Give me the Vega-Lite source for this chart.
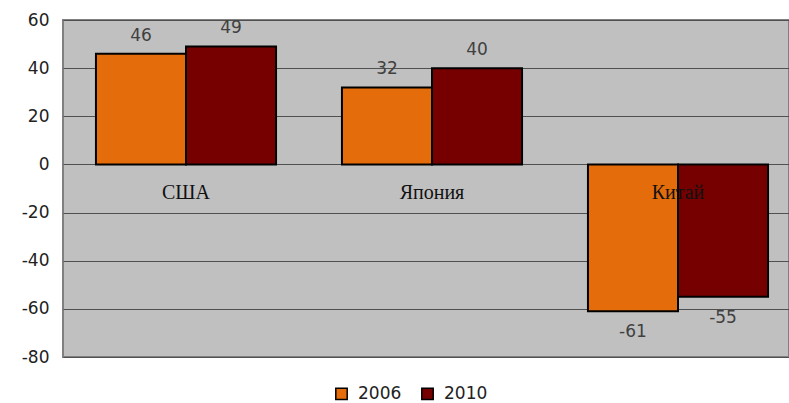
{
  "$schema": "https://vega.github.io/schema/vega-lite/v6.json",
  "width": 726,
  "height": 337,
  "autosize": "none",
  "padding": {"left": 63, "top": 20, "right": 0, "bottom": 46},
  "background": "white",
  "config": {
    "view": {"fill": "#C0C0C0", "stroke": "#808080", "strokeWidth": 2},
    "font": "DejaVu Sans"
  },
  "data": {
    "values": [
      {"country": "США", "year": "2006", "value": 46},
      {"country": "США", "year": "2010", "value": 49},
      {"country": "Япония", "year": "2006", "value": 32},
      {"country": "Япония", "year": "2010", "value": 40},
      {"country": "Китай", "year": "2006", "value": -61},
      {"country": "Китай", "year": "2010", "value": -55}
    ]
  },
  "encoding": {
    "x": {
      "field": "country",
      "type": "nominal",
      "sort": ["США", "Япония", "Китай"],
      "scale": {"range": [0, 738], "paddingInner": 0.268, "paddingOuter": 0.134},
      "axis": null
    }
  },
  "layer": [
    {
      "mark": {"type": "bar", "stroke": "black", "strokeWidth": 2},
      "encoding": {
        "xOffset": {"field": "year", "type": "nominal", "scale": {"paddingInner": 0, "paddingOuter": 0}},
        "y": {
          "field": "value",
          "type": "quantitative",
          "scale": {"domain": [-80, 60], "nice": false, "zero": false},
          "axis": {
            "values": [-80, -60, -40, -20, 0, 20, 40, 60],
            "labelExpr": "replace(datum.label, '−', '-')",
            "title": null,
            "domain": false,
            "ticks": false,
            "labelPadding": 14,
            "labelFontSize": 17,
            "labelColor": "#222222",
            "labelFont": "DejaVu Sans",
            "gridColor": "#505050",
            "gridWidth": 1,
            "gridOpacity": 1
          }
        },
        "color": {
          "field": "year",
          "type": "nominal",
          "scale": {"domain": ["2006", "2010"], "range": ["#E46C0A", "#760000"]},
          "legend": {
            "title": null,
            "orient": "none",
            "legendX": 270,
            "legendY": 365,
            "direction": "horizontal",
            "symbolType": "square",
            "symbolSize": 130,
            "symbolStrokeColor": "black",
            "symbolStrokeWidth": 1.5,
            "symbolOpacity": 1,
            "labelFontSize": 17,
            "labelFont": "DejaVu Sans",
            "labelColor": "#222222",
            "labelOffset": 8,
            "columnPadding": 16
          }
        }
      }
    },
    {
      "transform": [{"filter": "datum.value >= 0"}],
      "mark": {"type": "text", "baseline": "middle", "dy": -18, "fontSize": 17, "color": "#404040"},
      "encoding": {
        "xOffset": {"field": "year", "type": "nominal"},
        "y": {"field": "value", "type": "quantitative"},
        "text": {"field": "value", "type": "nominal"}
      }
    },
    {
      "transform": [{"filter": "datum.value < 0"}],
      "mark": {"type": "text", "baseline": "middle", "dy": 21, "fontSize": 17, "color": "#404040"},
      "encoding": {
        "xOffset": {"field": "year", "type": "nominal"},
        "y": {"field": "value", "type": "quantitative"},
        "text": {"field": "value", "type": "nominal"}
      }
    },
    {
      "transform": [{"filter": "datum.year == '2006'"}],
      "mark": {"type": "text", "align": "center", "baseline": "middle", "font": "Liberation Serif", "fontSize": 20, "color": "#111111"},
      "encoding": {
        "x": {"field": "country", "type": "nominal", "sort": ["США", "Япония", "Китай"], "bandPosition": 0.5},
        "y": {"datum": -12},
        "text": {"field": "country"}
      }
    }
  ]
}
